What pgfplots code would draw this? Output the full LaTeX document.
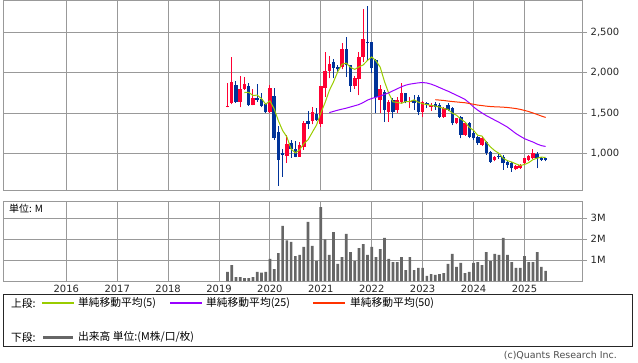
\documentclass[border=0pt]{standalone}
\usepackage{pgfplots}
\pgfplotsset{compat=1.18}
\usepackage{pgfplotstable}
\usepackage{fontspec}
\setmainfont{DejaVu Sans}
\newfontfamily\jp{Noto Sans CJK JP}
\definecolor{gridc}{HTML}{999999}
\definecolor{upc}{HTML}{FF0033}
\definecolor{dnc}{HTML}{003399}
\definecolor{ma5}{HTML}{99CC00}
\definecolor{ma25}{HTML}{9900FF}
\definecolor{ma50}{HTML}{FF3300}
\definecolor{volc}{HTML}{666666}

% month index: 0 = Jan 2016
\pgfplotstableread{
m o h l c
38 1580 1870 1570 1590
39 1628 2195 1608 1888
41 1640 1959 1571 1798
42 1798 1947 1790 1860
44 1599 1798 1595 1686
48 1509 1847 1505 1810
52 970 1231 883 1115
55 958 1136 955 1099
56 1082 1401 1041 1376
58 1401 1578 1360 1512
60 1360 1840 1330 1835
61 1806 2253 1700 2021
62 2021 2210 1930 2108
65 2076 2373 2040 2294
68 1840 1960 1800 1940
69 1920 2261 1723 2195
70 2199 2790 2137 2418
74 1661 1850 1496 1800
76 1517 1660 1392 1640
78 1537 1700 1500 1661
79 1641 1868 1620 1744
81 1641 1700 1560 1650
84 1517 1650 1445 1641
86 1579 1620 1530 1600
89 1455 1570 1440 1558
92 1372 1440 1360 1434
94 1227 1390 1220 1372
98 1103 1200 1090 1185
101 917 970 900 958
106 800 850 790 842
107 820 862 810 855
108 876 945 870 938
109 917 980 900 970
110 938 1050 930 1000
}\uptab

\pgfplotstableread{
m o h l c
40 1847 1897 1628 1640
43 1835 1872 1587 1599
45 1690 1856 1640 1665
46 1670 1744 1571 1587
47 1612 1625 1500 1509
49 1711 1810 1165 1190
50 1264 1339 598 917
51 1000 1053 710 983
53 1124 1165 945 1053
54 1053 1153 950 958
57 1401 1525 1305 1360
59 1488 1566 1400 1413
63 2133 2170 1930 2058
64 2076 2100 2000 2042
66 2300 2447 1950 2090
67 2090 2100 1764 1840
71 2377 2828 2150 2365
72 2377 2380 1990 2055
73 2158 2170 1496 1703
75 1765 1780 1392 1537
77 1661 1680 1434 1517
80 1744 1750 1620 1641
82 1660 1720 1540 1620
83 1703 1720 1475 1517
85 1620 1640 1560 1599
87 1610 1640 1540 1570
88 1599 1620 1440 1455
90 1600 1620 1520 1537
91 1558 1570 1351 1372
93 1455 1460 1186 1227
95 1372 1390 1186 1206
96 1256 1280 1160 1185
97 1206 1220 1103 1124
99 1144 1150 979 1000
100 1020 1030 880 896
102 970 990 930 958
103 958 975 793 876
104 896 905 822 855
105 876 890 772 814
111 992 1010 815 938
112 946 960 905 917
113 938 945 900 917
}\dntab

\pgfplotstableread{
m v
38 0.44
39 0.76
40 0.19
41 0.19
42 0.14
43 0.14
44 0.19
45 0.43
46 0.40
47 0.43
48 1.05
49 0.57
50 1.33
51 2.62
52 1.94
53 1.86
54 1.19
55 1.24
56 1.62
57 2.81
58 1.67
59 0.95
60 3.52
61 1.98
62 1.24
63 2.33
64 0.81
65 1.14
66 2.24
67 1.38
68 0.95
69 1.57
70 1.76
71 1.24
72 1.62
73 1.14
74 1.52
75 2.05
76 1.05
77 0.90
78 0.90
79 1.14
80 0.52
81 1.14
82 0.52
83 0.62
84 0.62
85 0.24
86 0.33
87 0.29
88 0.33
89 0.38
90 0.81
91 1.29
92 0.67
93 0.86
94 0.38
95 0.43
96 0.86
97 0.90
98 0.76
99 1.38
100 0.95
101 1.29
102 1.24
103 2.05
104 1.24
105 0.90
106 0.62
107 0.62
108 1.19
109 0.90
110 0.90
111 1.38
112 0.67
113 0.48
}\voltab

\pgfplotsset{
  chartbase/.style={
    scale only axis, width=579.4bp, anchor=south west,
    xmin=-14.85, xmax=121.74,
    axis line style={draw=gridc, line width=0.9bp},
    grid=major, major grid style={draw=gridc, line width=0.9bp},
    xtick={0,12,...,108},
    ytick pos=right, yticklabel pos=right,
    tick align=outside,
    xtick style={draw=none},
    ytick style={draw=gridc, line width=0.9bp},
    major tick length=4.5bp,
    tick label style={font=\fontsize{10}{12}\selectfont, text=black!85},
    /pgf/number format/assume math mode=true,
  },
  candle/.style 2 args={only marks, mark=*, mark size=0pt,
    mark options={draw=none, fill=none}, forget plot,
    error bars/.cd, y dir=plus, y explicit, error mark=none,
    error bar style={draw=#1, line width=#2}},
}

\begin{document}
\begin{tikzpicture}[x=1bp,y=1bp]
\useasboundingbox (0,0) rectangle (638,362);

% legend (drawn first)
\draw[draw=black!85, line width=0.8bp] (3.5,16) rectangle (632.5,68);
\draw[draw=ma5, line width=1.1bp] (42,59) -- (74,59);
\draw[draw=ma25, line width=1.1bp] (170,59) -- (202,59);
\draw[draw=ma50, line width=1.1bp] (313,59) -- (345,59);
\draw[draw=volc, line width=3bp] (43,25) -- (73,25);
\begin{scope}[every node/.style={anchor=west, inner sep=0, font=\jp\fontsize{10.8}{12}\selectfont}]
\node at (11,59) {上段:};
\node at (78,59) {単純移動平均(5)};
\node at (206,59) {単純移動平均(25)};
\node at (350,59) {単純移動平均(50)};
\node at (11,25) {下段:};
\node at (78,25) {出来高 単位:(M株/口/枚)};
\end{scope}
\node[anchor=east, inner sep=0, text=black!70] at (617,6) {\fontsize{9.5}{11}\selectfont (c)Quants Research Inc.};
\node[anchor=west, inner sep=0] at (9,153) {\jp\fontsize{10}{12}\selectfont 単位: M};

\begin{axis}[chartbase,
  at={(3.3bp,171.7bp)}, height=189.6bp,
  ymin=541, ymax=2893,
  ytick={1000,1500,2000,2500},
  xticklabels={},
  /pgf/number format/1000 sep={,},
]
% wicks
\addplot[candle={upc}{1bp}]
  table[x=m, y=l, y error expr=\thisrow{h}-\thisrow{l}] \uptab;
\addplot[candle={dnc}{1bp}]
  table[x=m, y=l, y error expr=\thisrow{h}-\thisrow{l}] \dntab;
% bodies
\addplot[candle={upc}{3.5bp}]
  table[x=m, y=o, y error expr=\thisrow{c}-\thisrow{o}] \uptab;
\addplot[candle={dnc}{3.5bp}]
  table[x=m, y=c, y error expr=\thisrow{o}-\thisrow{c}] \dntab;
% MA5
\addplot[ma5, line width=1bp, mark=none] coordinates {
(42,1754)(43,1757)(44,1717)(45,1722)(46,1679)(47,1609)(48,1651)(49,1552)
(50,1403)(51,1282)(52,1203)(53,1052)(54,1005)(55,1042)(56,1120)(57,1169)
(58,1261)(59,1352)(60,1499)(61,1628)(62,1778)(63,1887)(64,2013)(65,2105)
(66,2118)(67,2065)(68,2041)(69,2072)(70,2097)(71,2152)(72,2195)(73,2147)
(74,2068)(75,1892)(76,1747)(77,1639)(78,1631)(79,1620)(80,1641)(81,1643)
(82,1663)(83,1634)(84,1614)(85,1605)(86,1595)(87,1585)(88,1573)(89,1556)
(90,1544)(91,1498)(92,1471)(93,1426)(94,1388)(95,1322)(96,1285)(97,1223)
(98,1214)(99,1140)(100,1078)(101,1033)(102,999)(103,938)(104,909)(105,892)
(106,869)(107,848)(108,861)(109,884)(110,921)(111,940)(112,953)(113,948)
};
% MA25
\addplot[ma25, line width=1bp, mark=none] coordinates {
(62,1505)(63,1520)(64,1535)(65,1548)(66,1560)(67,1575)(68,1590)(69,1605)
(70,1630)(71,1660)(72,1680)(73,1695)(74,1710)(75,1730)(76,1750)(77,1775)
(78,1800)(79,1825)(80,1845)(81,1858)(82,1866)(83,1874)(84,1878)(85,1872)
(86,1858)(87,1838)(88,1815)(89,1792)(90,1770)(91,1745)(92,1720)(93,1695)
(94,1668)(95,1625)(96,1575)(97,1535)(98,1500)(99,1468)(100,1440)(101,1412)
(102,1385)(103,1355)(104,1325)(105,1285)(106,1245)(107,1212)(108,1182)
(109,1160)(110,1140)(111,1115)(112,1095)(113,1085)
};
% MA50
\addplot[ma50, line width=1bp, mark=none] coordinates {
(87,1665)(88,1660)(89,1655)(90,1648)(91,1642)(92,1637)(93,1632)(94,1627)
(95,1618)(96,1608)(97,1598)(98,1592)(99,1585)(100,1580)(101,1577)(102,1575)
(103,1572)(104,1568)(105,1562)(106,1555)(107,1545)(108,1532)(109,1518)
(110,1500)(111,1482)(112,1462)(113,1445)
};
\end{axis}

\begin{axis}[chartbase,
  at={(3.3bp,81bp)}, height=79.3bp,
  ymin=0, ymax=3.776,
  ytick={1,2,3}, yticklabels={1M,2M,3M},
  xticklabels={2016,2017,2018,2019,2020,2021,2022,2023,2024,2025},
  xticklabel style={yshift=4bp},
]
\addplot[ybar, bar width=2.7bp, bar shift=0pt, fill=volc, draw=none]
  table[x=m, y=v] \voltab;
\end{axis}
\end{tikzpicture}
\end{document}
